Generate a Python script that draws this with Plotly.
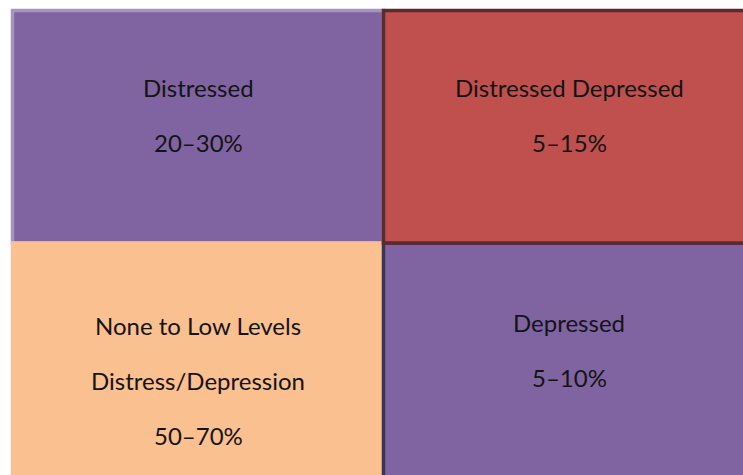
import plotly.graph_objects as go

# Quadrant grid: column 0/1 (left/right), row 0/1 (bottom/top)
cells = ["Distressed", "Distressed Depressed", "None to Low Levels", "Depressed"]
cell_col = [0, 1, 0, 1]
cell_row = [1, 1, 0, 0]
cell_lines = [
    ["Distressed", "20–30%"],
    ["Distressed Depressed", "5–15%"],
    ["None to Low Levels", "Distress/Depression", "50–70%"],
    ["Depressed", "5–10%"],
]
fill_colors = ["#8064A2", "#C0504D", "#FAC090", "#8064A2"]
edge_colors = ["#A693C2", "#5A2A2E", "#FAC090", "#3F3352"]
draw_order = [0, 2, 3, 1]

# the bottom row runs past the lower edge of the page
row_extent = {0: (-0.06, 1.0), 1: (1.0, 2.0)}

# text placement (pixels below cell top) and spacing between lines
first_line_offset = [77, 77, 82, 79]
line_gap = 55

W, H = 743, 475
px_per_x = 371.0
px_per_y = 232.5
x_left_px = 12.5
y_top_px = 10.5

x_range = [-x_left_px / px_per_x, (W - x_left_px) / px_per_x]
y_range = [2 - (H - y_top_px) / px_per_y, 2 + y_top_px / px_per_y]

fig = go.Figure()

shapes = []
for i in draw_order:
    c, r = cell_col[i], cell_row[i]
    y0, y1 = row_extent[r]
    shapes.append(dict(
        type="rect", xref="x", yref="y",
        x0=c, x1=c + 1, y0=y0, y1=y1,
        fillcolor=fill_colors[i],
        line=dict(color=edge_colors[i], width=3.5),
        layer="below",
    ))

annotations = []
for i in range(len(cells)):
    c, r = cell_col[i], cell_row[i]
    for k, txt in enumerate(cell_lines[i]):
        annotations.append(dict(
            x=c + 0.5, y=r + 1, xref="x", yref="y",
            text=txt, showarrow=False,
            xanchor="center", yanchor="middle",
            yshift=-(first_line_offset[i] + k * line_gap),
            font=dict(family="Lato, 'Open Sans', sans-serif", size=24, color="#141414"),
        ))

# invisible trace so the axes are instantiated
fig.add_trace(go.Scatter(x=[0.5], y=[0.5], mode="markers",
                         marker=dict(opacity=0), hoverinfo="skip", showlegend=False))

fig.update_layout(
    width=W, height=H,
    margin=dict(l=0, r=0, t=0, b=0),
    paper_bgcolor="white", plot_bgcolor="white",
    shapes=shapes, annotations=annotations,
    xaxis=dict(range=x_range, visible=False, fixedrange=True),
    yaxis=dict(range=y_range, visible=False, fixedrange=True),
    showlegend=False,
)

fig.write_html("out.html", config={"displayModeBar": False})
